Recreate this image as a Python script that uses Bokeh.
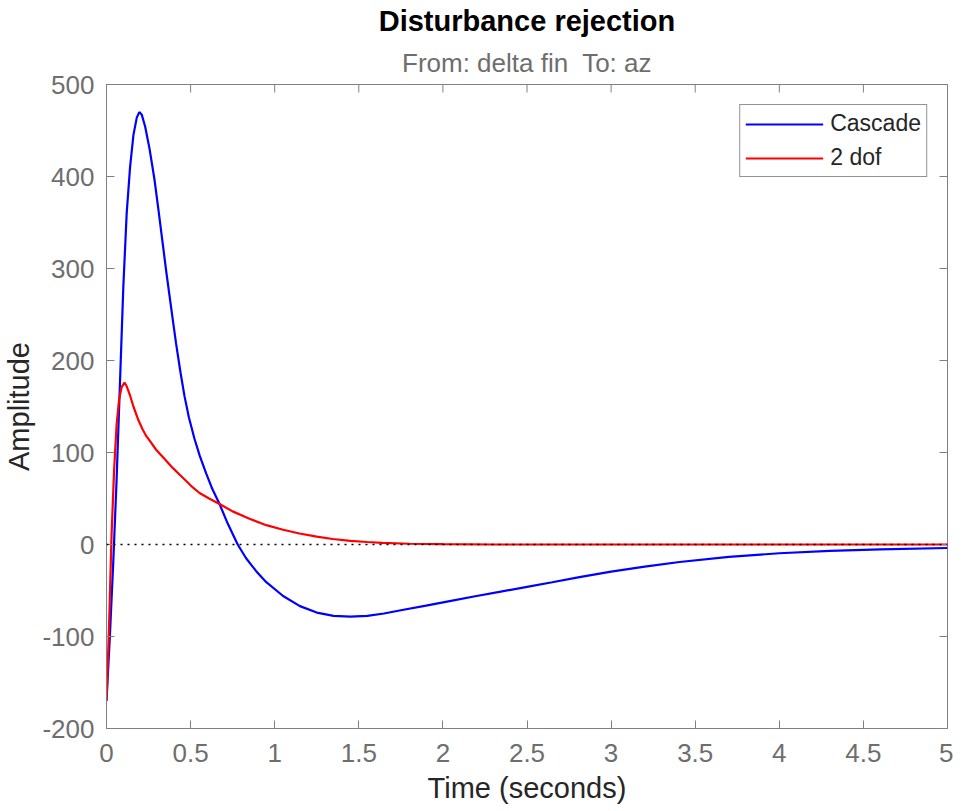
import math
from bokeh.plotting import figure
from bokeh.models import Title, Span, Legend, LegendItem, FixedTicker, Range1d
from bokeh.embed import file_html
from bokeh.resources import INLINE

# ---- data ----
t_cascade = [0, 0.02, 0.04, 0.06, 0.08, 0.1, 0.12, 0.14, 0.16, 0.18, 0.195, 0.21, 0.23,
             0.256, 0.285, 0.31, 0.335, 0.355, 0.375, 0.395, 0.414, 0.44, 0.464, 0.49,
             0.523, 0.555, 0.593, 0.63, 0.672, 0.72, 0.78, 0.83, 0.89, 0.95, 1.05, 1.15,
             1.25, 1.35, 1.45, 1.55, 1.65, 1.75, 1.9, 2.04, 2.2, 2.336, 2.5, 2.65, 2.812,
             3.0, 3.2, 3.407, 3.7, 4.0, 4.3, 4.6, 5.0]
amp_cascade = [-170, -100, -20, 70, 175, 280, 360, 410, 445, 464, 470, 467, 454,
               430, 397, 362, 326, 297, 270, 243, 218, 187, 161, 138,
               115, 96, 77, 60, 44, 23, 0, -15, -29, -41, -56, -67,
               -74, -77.5, -78.5, -77.5, -75, -71.5, -66.5, -61.5, -56, -51.5, -46, -41, -35.5,
               -29.5, -24, -19, -13.5, -9.5, -7, -5.3, -3.8]

t_2dof = [0, 0.015, 0.03, 0.045, 0.06, 0.075, 0.09, 0.107, 0.12, 0.14, 0.16, 0.19,
          0.215, 0.236, 0.26, 0.295, 0.325, 0.355, 0.395, 0.434, 0.474, 0.513, 0.553,
          0.61, 0.672, 0.75, 0.85, 0.95, 1.05, 1.147, 1.25, 1.345, 1.45, 1.55, 1.64,
          1.8, 2.0, 2.3, 2.6, 3.0, 3.5, 4.0, 4.5, 5.0]
amp_2dof = [-170, -90, 10, 80, 130, 158, 171, 176, 172, 162, 150, 135,
            125, 118, 112, 103, 97, 91, 83, 76, 69, 62, 56,
            50, 44, 36, 28, 21, 16, 12, 8.5, 6, 4, 2.7, 1.8,
            0.8, 0.3, 0, 0, 0, 0, 0, 0, 0]

x_ticks = [0, 0.5, 1, 1.5, 2, 2.5, 3, 3.5, 4, 4.5, 5]
y_ticks = [-200, -100, 0, 100, 200, 300, 400, 500]
y_tick_labels = {v: str(v) for v in y_ticks}

FONT = "Liberation Sans"
AXIS_GRAY = "#808080"
TICK_TEXT = "#6e6e6e"

p = figure(output_backend="svg", toolbar_location=None, title=None,
           x_range=Range1d(x_ticks[0], x_ticks[-1]), y_range=Range1d(y_ticks[0], y_ticks[-1]),
           frame_width=841, frame_height=644,
           min_border_left=99, min_border_right=6, min_border_top=77, min_border_bottom=70)
p.xgrid.visible = False
p.ygrid.visible = False
p.outline_line_color = AXIS_GRAY
p.outline_line_width = 1
p.background_fill_color = "white"
p.border_fill_color = "white"

cas = p.line(t_cascade, amp_cascade, line_color="#0000ff", line_width=2.2)
dof = p.line(t_2dof, amp_2dof, line_color="#ff0000", line_width=2.2)

p.add_layout(Span(location=0, dimension="width", line_color="black",
                  line_dash="2 5", line_width=1.5))

# inward tick marks on the top and right edges of the box (clipped to the frame)
p.scatter(x=x_ticks, y=[y_ticks[-1]] * len(x_ticks), marker="dash", angle=math.pi / 2,
          size=16, line_color=AXIS_GRAY, line_width=1)
p.scatter(x=[x_ticks[-1]] * len(y_ticks), y=y_ticks, marker="dash",
          size=16, line_color=AXIS_GRAY, line_width=1)

def style_axis(ax, ticks):
    ax.ticker = FixedTicker(ticks=ticks)
    ax.major_tick_in = 8
    ax.major_tick_out = 0
    ax.minor_tick_line_color = None
    ax.axis_line_color = AXIS_GRAY
    ax.major_tick_line_color = AXIS_GRAY
    ax.major_label_text_font = FONT
    ax.major_label_text_font_size = "26px"
    ax.major_label_text_color = TICK_TEXT
    ax.axis_label_text_font = FONT
    ax.axis_label_text_font_size = "29px"
    ax.axis_label_text_font_style = "normal"
    ax.axis_label_text_color = "#262626"

style_axis(p.xaxis[0], x_ticks)
style_axis(p.yaxis[0], y_ticks)
p.yaxis[0].major_label_overrides = y_tick_labels
p.xaxis[0].axis_label = "Time (seconds)"
p.xaxis[0].major_label_standoff = 15
p.xaxis[0].axis_label_standoff = 7
p.yaxis[0].axis_label = "Amplitude"
p.yaxis[0].major_label_standoff = 12
p.yaxis[0].axis_label_standoff = 4

p.add_layout(Title(text="From: delta fin\u00a0 To: az", align="center", text_font=FONT,
                   text_font_size="26px", text_font_style="normal",
                   text_color="#6e6e6e", standoff=13), "above")
p.add_layout(Title(text="Disturbance rejection", align="center", text_font=FONT,
                   text_font_size="29px", text_font_style="bold",
                   text_color="black", standoff=5), "above")

legend = Legend(items=[LegendItem(label="Cascade", renderers=[cas]),
                       LegendItem(label="2 dof", renderers=[dof])],
                location="top_right", margin=20, padding=5, spacing=7,
                glyph_width=78, glyph_height=24, label_height=24, label_standoff=7,
                label_text_font=FONT, label_text_font_size="23px",
                label_text_color="#262626",
                border_line_color="#262626", border_line_width=1.2,
                background_fill_color="white", background_fill_alpha=1)
p.add_layout(legend)

open("out.html", "w").write(file_html(p, INLINE))
